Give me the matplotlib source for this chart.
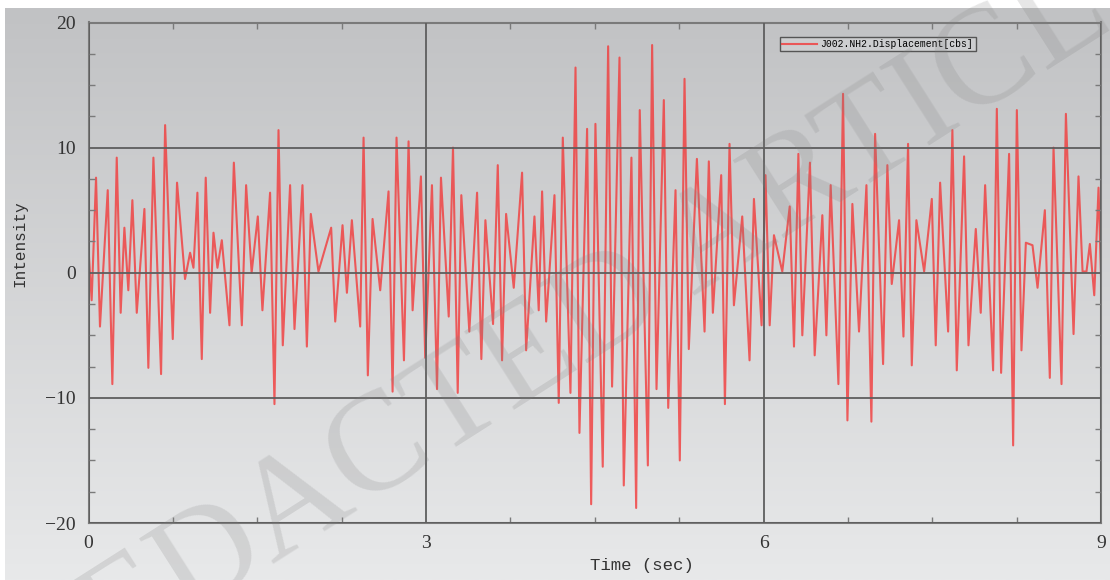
import numpy as np
import matplotlib
matplotlib.use("Agg")
import matplotlib.pyplot as plt
from matplotlib.ticker import MultipleLocator, FixedLocator
from matplotlib.colors import LinearSegmentedColormap

# ---------------------------------------------------------------------------
# Data (local peaks / troughs of the trace)
# ---------------------------------------------------------------------------
time_s = [
    0.000, 0.028, 0.067, 0.102, 0.171, 0.212, 0.251, 0.286, 0.319, 0.354,
    0.390, 0.429, 0.497, 0.532, 0.577, 0.645, 0.681, 0.749, 0.787, 0.858,
    0.903, 0.933, 0.968, 1.007, 1.042, 1.081, 1.111, 1.146, 1.185, 1.253,
    1.292, 1.363, 1.401, 1.450, 1.505,
    1.546, 1.614, 1.653, 1.689, 1.727, 1.792, 1.831, 1.902, 1.941, 1.976,
    2.044, 2.157, 2.193, 2.258, 2.297, 2.341, 2.415, 2.445, 2.483, 2.525,
    2.593, 2.667, 2.703, 2.738, 2.804, 2.845, 2.881, 2.955, 2.993,
    3.053, 3.098, 3.133, 3.202, 3.240, 3.282, 3.314, 3.385, 3.454, 3.492,
    3.528, 3.596, 3.638, 3.676, 3.712, 3.780, 3.854, 3.890, 3.964, 4.002,
    4.032, 4.068, 4.142, 4.180, 4.216, 4.284, 4.329, 4.364, 4.432, 4.468,
    4.506,
    4.571, 4.619, 4.654, 4.720, 4.758, 4.826, 4.868, 4.900, 4.972, 5.010,
    5.049, 5.114, 5.153, 5.218, 5.256, 5.298, 5.336, 5.408, 5.476, 5.514,
    5.550, 5.624, 5.657, 5.698, 5.737, 5.811, 5.876, 5.915, 5.983, 6.018,
    6.055, 6.093, 6.167, 6.233, 6.271, 6.310, 6.345, 6.413, 6.455, 6.523,
    6.559, 6.597, 6.666, 6.707, 6.746, 6.790, 6.849, 6.915, 6.959, 6.992,
    7.063, 7.101, 7.140, 7.205, 7.244, 7.285, 7.318, 7.359, 7.428, 7.496,
    7.531,
    7.570, 7.641, 7.679, 7.718, 7.783, 7.822, 7.887, 7.931, 7.970, 8.041,
    8.074, 8.112, 8.183, 8.219, 8.252, 8.293, 8.332, 8.391, 8.436, 8.501,
    8.545, 8.578, 8.649, 8.688, 8.756, 8.800, 8.836, 8.871, 8.901, 8.940,
    8.978, 9.000,
]
intensity = [
    1.9, -2.2, 7.6, -4.3, 6.6, -8.9, 9.2, -3.2, 3.6, -1.4,
    5.8, -3.2, 5.1, -7.6, 9.2, -8.1, 11.8, -5.3, 7.2, -0.5,
    1.6, 0.4, 6.4, -6.9, 7.6, -3.2, 3.2, 0.4, 2.6, -4.2,
    8.8, -4.2, 7.0, 0.0, 4.5,
    -3.0, 6.4, -10.5, 11.4, -5.8, 7.0, -4.5, 7.0, -5.9, 4.7,
    0.1, 3.6, -3.9, 3.8, -1.6, 4.2, -4.3, 10.8, -8.2, 4.3,
    -1.4, 6.5, -9.5, 10.8, -7.0, 10.5, -3.0, 7.7, -6.8,
    7.0, -9.3, 7.6, -3.5, 10.0, -9.6, 6.2, -4.7, 6.4, -6.9,
    4.2, -4.1, 8.6, -7.0, 4.7, -1.2, 8.0, -6.2, 4.5, -3.0,
    6.5, -3.9, 6.2, -10.4, 10.8, -9.6, 16.4, -12.8, 11.5, -18.5,
    11.9,
    -15.5, 18.1, -9.1, 17.2, -17.0, 9.2, -18.8, 13.0, -15.4, 18.2,
    -9.3, 13.8, -10.8, 6.6, -15.0, 15.5, -6.1, 9.1, -4.7, 8.9,
    -3.2, 7.8, -10.5, 10.3, -2.6, 4.5, -7.0, 5.9, -4.2, 7.8,
    -4.2, 3.0, 0.1, 5.3, -5.9, 9.5, -5.0, 8.8, -6.6, 4.6,
    -5.0, 7.0, -8.9, 14.3, -11.8, 5.5, -4.7, 7.0, -11.9, 11.1,
    -7.3, 8.6, -0.9, 4.2, -5.1, 10.3, -7.4, 4.2, 0.1, 5.9,
    -5.8,
    7.2, -4.7, 11.4, -7.8, 9.3, -5.8, 3.5, -3.2, 7.0, -7.8,
    13.1, -8.0, 9.5, -13.8, 13.0, -6.2, 2.4, 2.2, -1.2, 5.0,
    -8.4, 10.0, -8.9, 12.7, -4.9, 7.7, 0.1, 0.1, 2.3, -1.8,
    6.8, -0.3,
]

x_ticks = [0, 3, 6, 9]
y_ticks = [-20, -10, 0, 10, 20]
y_tick_labels = ["\u221220", "\u221210", "0", "10", "20"]
series_label = "J002.NH2.Displacement[cbs]"

# ---------------------------------------------------------------------------
# Style
# ---------------------------------------------------------------------------
LINE_COLOR = "#f23a3a"
GRID_COLOR = "#5e5e5e"
SPINE_COLOR = "#7a7a7a"
TEXT_COLOR = "#333333"
BG_TOP = "#c1c2c4"
BG_BOTTOM = "#e8e9ea"

fig = plt.figure(figsize=(11.1, 5.8), dpi=100)
fig.patch.set_facecolor("white")

# gradient backdrop behind everything
bg = fig.add_axes([5 / 1110, 0, 1 - 5 / 1110, 1 - 8 / 580], zorder=-10)
grad = np.linspace(0, 1, 256).reshape(-1, 1)
cmap = LinearSegmentedColormap.from_list("bg", [BG_TOP, BG_BOTTOM])
bg.imshow(grad, aspect="auto", cmap=cmap, extent=[0, 1, 0, 1], origin="upper")
bg.axis("off")

ax = fig.add_axes([88.5 / 1110, 1 - 523 / 580, 1012.5 / 1110, 500.5 / 580])
ax.patch.set_alpha(0)

ax.plot(time_s, intensity, color=LINE_COLOR, linewidth=1.5, alpha=0.8,
        label=series_label, zorder=2)

ax.set_xlim(0, 9)
ax.set_ylim(-20, 20)
ax.xaxis.set_major_locator(FixedLocator(x_ticks))
ax.yaxis.set_major_locator(FixedLocator(y_ticks))
ax.set_yticklabels(y_tick_labels)
ax.xaxis.set_minor_locator(MultipleLocator(0.75))
ax.yaxis.set_minor_locator(MultipleLocator(2.5))

ax.set_axisbelow(False)
ax.grid(which="major", color=GRID_COLOR, linewidth=1.3)

ax.tick_params(which="major", length=0, pad=9, labelsize=14,
               labelcolor=TEXT_COLOR)
ax.tick_params(which="minor", direction="in", length=4, width=1,
               color=SPINE_COLOR, top=True, right=True)
for lab in ax.get_xticklabels() + ax.get_yticklabels():
    lab.set_fontfamily("Liberation Serif")

for spine in ax.spines.values():
    spine.set_edgecolor(SPINE_COLOR)
    spine.set_linewidth(1.5)

ax.set_xlabel("Time (sec)", fontsize=12.5, family="Liberation Mono",
              color=TEXT_COLOR)
ax.xaxis.set_label_coords(0.547, -0.07)
ax.set_ylabel("Intensity", fontsize=11.5, family="Liberation Mono",
              color=TEXT_COLOR)
ax.yaxis.set_label_coords(-0.06, 0.559)

leg = ax.legend(loc="upper left", bbox_to_anchor=(0.683, 0.972),
                prop={"family": "Liberation Mono", "size": 7},
                handlelength=3.6, handletextpad=0.3, borderpad=0.25,
                borderaxespad=0, fancybox=False, framealpha=1,
                facecolor="#cdced0", edgecolor="#555555")
leg.get_frame().set_linewidth(1.0)

# diagonal watermark (runs off the canvas, as in the source image)
fig.text(0.535, 0.45, "REDACTED ARTICLE", fontsize=102,
         family="Liberation Serif", color="#808080", alpha=0.2,
         rotation=32.5, ha="center", va="center", rotation_mode="anchor",
         zorder=20)

fig.savefig("out.png", dpi=100, facecolor=fig.get_facecolor())
